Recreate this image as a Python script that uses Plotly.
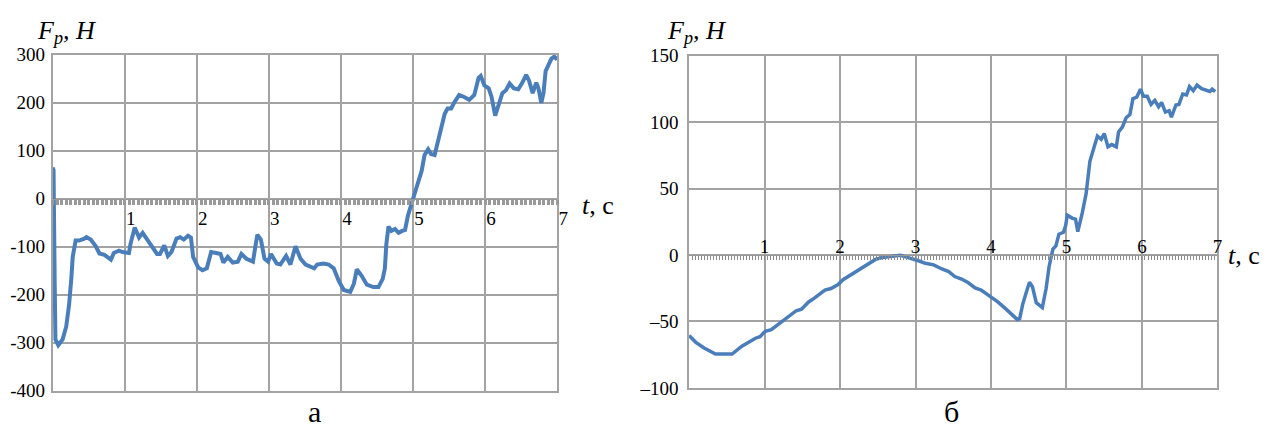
import plotly.graph_objects as go

# --- data ---
# panel "а": F_p (H) vs t (s)
t_a = [0.0, 0.014, 0.03, 0.04, 0.08, 0.14, 0.19, 0.23, 0.26, 0.28, 0.32, 0.37, 0.44, 0.47,
       0.53, 0.60, 0.65, 0.72, 0.81, 0.85, 0.92, 0.97, 1.06, 1.08, 1.14, 1.20, 1.25, 1.31,
       1.38, 1.45, 1.49, 1.55, 1.60, 1.65, 1.72, 1.77, 1.82, 1.88, 1.92, 1.95, 2.02, 2.08,
       2.14, 2.20, 2.27, 2.33, 2.37, 2.43, 2.50, 2.57, 2.62, 2.69, 2.78, 2.84, 2.89, 2.94,
       2.99, 3.03, 3.11, 3.16, 3.24, 3.30, 3.37, 3.44, 3.51, 3.58, 3.63, 3.67, 3.76, 3.83,
       3.90, 3.97, 4.04, 4.13, 4.18, 4.22, 4.29, 4.36, 4.45, 4.52, 4.58, 4.61, 4.63, 4.66,
       4.70, 4.75, 4.80, 4.85, 4.89, 4.93, 4.98, 5.05, 5.12, 5.16, 5.21, 5.25, 5.30, 5.35,
       5.39, 5.44, 5.48, 5.53, 5.57, 5.64, 5.71, 5.78, 5.85, 5.91, 5.94, 5.99, 6.05, 6.09,
       6.14, 6.18, 6.24, 6.29, 6.34, 6.40, 6.46, 6.51, 6.57, 6.61, 6.66, 6.71, 6.74, 6.78,
       6.81, 6.84, 6.88, 6.92, 6.96, 7.0]
f_a = [65, 60, -175, -293, -305, -293, -266, -220, -167, -121, -87, -87, -83, -80,
       -85, -99, -114, -117, -127, -113, -108, -111, -113, -95, -60, -81, -71, -85,
       -101, -115, -115, -97, -119, -111, -83, -80, -85, -77, -81, -121, -143, -149,
       -145, -111, -113, -115, -133, -121, -133, -131, -115, -125, -131, -75, -85, -125,
       -131, -115, -135, -137, -119, -137, -99, -125, -137, -141, -145, -137, -135, -137,
       -145, -171, -190, -194, -177, -147, -161, -179, -184, -184, -167, -145, -95, -58,
       -67, -63, -71, -67, -65, -35, -8, 24, 58, 91, 103, 93, 91, 123,
       151, 177, 188, 188, 200, 216, 212, 206, 216, 252, 256, 236, 230, 212,
       173, 192, 220, 226, 240, 230, 228, 240, 258, 246, 220, 242, 230, 200,
       220, 266, 280, 292, 296, 290]

# panel "б"
t_b = [0.00, 0.09, 0.20, 0.35, 0.57, 0.63, 0.70, 0.79, 0.88, 0.94, 1.01, 1.09, 1.16, 1.23,
       1.31, 1.42, 1.49, 1.58, 1.66, 1.80, 1.88, 1.97, 2.04, 2.17, 2.34, 2.47, 2.56, 2.69,
       2.80, 2.87, 2.96, 3.04, 3.13, 3.24, 3.35, 3.44, 3.52, 3.61, 3.70, 3.79, 3.87, 3.98,
       4.09, 4.20, 4.29, 4.35, 4.38, 4.42, 4.47, 4.51, 4.55, 4.60, 4.68, 4.73, 4.77, 4.82,
       4.86, 4.90, 4.96, 4.99, 5.01, 5.08, 5.12, 5.15, 5.21, 5.26, 5.31, 5.36, 5.41, 5.46,
       5.50, 5.55, 5.60, 5.66, 5.69, 5.74, 5.79, 5.84, 5.88, 5.93, 5.98, 6.02, 6.07, 6.12,
       6.17, 6.22, 6.26, 6.31, 6.36, 6.39, 6.45, 6.49, 6.54, 6.59, 6.63, 6.68, 6.73, 6.79,
       6.85, 6.90, 6.93, 6.97]
f_b = [-60.5, -65.7, -70, -74.5, -74.5, -71.7, -68.6, -65.7, -62.6, -61.4, -57.4, -56.2, -53.3, -50.2,
       -46.7, -41.9, -40.7, -35.5, -32.4, -26.4, -25.2, -22.4, -18.6, -13.8, -7.9, -3.3, -1.9, -0.9,
       -0.2, -1.4, -2.6, -4.3, -6.2, -7.4, -10.5, -12.5, -16.2, -18.1, -20.9, -24.8, -26.4, -30.5,
       -35.2, -40.7, -45.5, -48.6, -47.9, -37.1, -27.6, -20.5, -24.1, -35.9, -39.5, -25.2, -8.6, 4.5,
       6.9, 15.7, 17.1, 22.4, 30, 27.6, 27, 17.6, 31.9, 46.2, 70.5, 79.5, 89.5, 87.1,
       91.4, 81.4, 83.1, 81.4, 92.6, 96.2, 103.3, 105.7, 117.6, 118.8, 124.8, 119.5, 119.5, 113.3,
       116.4, 111.6, 114.8, 107.6, 108.6, 103.8, 112.9, 113.3, 121.2, 120.5, 126.7, 123.6, 127.9, 125.2,
       124.3, 123.1, 124.8, 122.9]

t_ticks = [1, 2, 3, 4, 5, 6, 7]
y_ticks_a = [-400, -300, -200, -100, 0, 100, 200, 300]
y_labels_a = ["-400", "-300", "-200", "-100", "0", "100", "200", "300"]
y_ticks_b = [-100, -50, 0, 50, 100, 150]
y_labels_b = ["\u2013100", "\u201350", "0", "50", "100", "150"]

SERIF = "Liberation Serif"
GRID = "#a3a3a3"
BAND = "#999999"
BLUE = "#4a7ebb"

dom_xa = [53 / 1281, 562 / 1281]
dom_xb = [695 / 1281, 1228 / 1281]
dom_ya = [1 - 400 / 437, 1 - 47 / 437]
dom_yb = [1 - 397 / 437, 1 - 48 / 437]
rng_ya = [-400, 300]
rng_yb = [-100, 150]


def zero_pos(dom, rng):
    return dom[0] + (0 - rng[0]) / (rng[1] - rng[0]) * (dom[1] - dom[0])


fig = go.Figure()
# empty traces keep the grid subplots alive
fig.add_trace(go.Scatter(x=[], y=[], xaxis="x", yaxis="y", showlegend=False, hoverinfo="skip"))
fig.add_trace(go.Scatter(x=[], y=[], xaxis="x2", yaxis="y2", showlegend=False, hoverinfo="skip"))
# curves on the overlay axes that form the F = 0 bands
fig.add_trace(go.Scatter(x=t_a, y=f_a, mode="lines", xaxis="x3", yaxis="y",
                         line=dict(color=BLUE, width=4), showlegend=False))
fig.add_trace(go.Scatter(x=t_b, y=f_b, mode="lines", xaxis="x4", yaxis="y2",
                         line=dict(color=BLUE, width=3.5), showlegend=False))

grid_x = dict(range=[0, 7], dtick=1, tick0=0, showgrid=True, gridcolor=GRID, gridwidth=1.5,
              showline=True, linecolor=GRID, linewidth=1.5, mirror=True,
              showticklabels=False, ticks="", zeroline=False)
grid_y = dict(showgrid=True, gridcolor=GRID, gridwidth=1.5, showline=True, linecolor=GRID,
              linewidth=1.5, mirror=True, ticks="", zeroline=False,
              tickfont=dict(family=SERIF, size=19, color="black"))

fig.update_layout(
    width=1281, height=437,
    margin=dict(l=0, r=0, t=0, b=0),
    font=dict(family=SERIF, color="black"),
    paper_bgcolor="white", plot_bgcolor="white",
    xaxis=dict(domain=dom_xa, anchor="y", **grid_x),
    xaxis2=dict(domain=dom_xb, anchor="y2", **grid_x),
    yaxis=dict(domain=dom_ya, anchor="x", range=rng_ya, tickvals=y_ticks_a,
               ticktext=y_labels_a, ticklabelstandoff=2, **grid_y),
    yaxis2=dict(domain=dom_yb, anchor="x2", range=rng_yb, tickvals=y_ticks_b,
                ticktext=y_labels_b, ticklabelstandoff=5, **grid_y),
    xaxis3=dict(domain=dom_xa, anchor="free", overlaying="x", position=zero_pos(dom_ya, rng_ya),
                range=[0, 7], side="bottom", showgrid=False, zeroline=False,
                showline=True, linecolor=BAND, linewidth=1,
                tickvals=t_ticks, ticks="outside", ticklen=5, tickwidth=2.5, tickcolor=BAND,
                minor=dict(ticks="outside", ticklen=5, tickwidth=2.5, tickcolor=BAND,
                           tick0=0, dtick=1 / 16, showgrid=False),
                tickfont=dict(family=SERIF, size=19, color="black"),
                ticklabelshift=6, ticklabelstandoff=-3),
    xaxis4=dict(domain=dom_xb, anchor="free", overlaying="x2", position=zero_pos(dom_yb, rng_yb),
                range=[0, 7], side="top", showgrid=False, zeroline=False,
                showline=True, linecolor=BAND, linewidth=1,
                tickvals=t_ticks, ticks="inside", ticklen=4, tickwidth=1, tickcolor="#8a8a8a",
                minor=dict(ticks="inside", ticklen=4, tickwidth=1, tickcolor="#8a8a8a",
                           tick0=0, dtick=0.04, showgrid=False),
                tickfont=dict(family=SERIF, size=19, color="black"),
                ticklabelstandoff=-6),
)

txt = dict(family=SERIF, size=26, color="black")
fig.add_annotation(x=35 / 1281, y=1 - 23 / 437, xref="paper", yref="paper", xanchor="left",
                   yanchor="middle", text="<i>F<sub>p</sub>, H</i>", showarrow=False, font=txt)
fig.add_annotation(x=671 / 1281, y=1 - 23 / 437, xref="paper", yref="paper", xanchor="left",
                   yanchor="middle", text="<i>F<sub>p</sub>, H</i>", showarrow=False, font=txt)
fig.add_annotation(x=585 / 1281, y=1 - 205 / 437, xref="paper", yref="paper", xanchor="left",
                   yanchor="middle", text="<i>t</i>, с", showarrow=False, font=txt)
fig.add_annotation(x=1237 / 1281, y=1 - 258 / 437, xref="paper", yref="paper", xanchor="left",
                   yanchor="middle", text="<i>t</i>, с", showarrow=False, font=txt)
fig.add_annotation(x=317 / 1281, y=1 - 422 / 437, xref="paper", yref="paper", xanchor="center",
                   yanchor="middle", text="а", showarrow=False, font=dict(family=SERIF, size=30, color="black"))
fig.add_annotation(x=960 / 1281, y=1 - 422 / 437, xref="paper", yref="paper", xanchor="center",
                   yanchor="middle", text="б", showarrow=False, font=dict(family=SERIF, size=30, color="black"))

fig.write_html("out.html", config={"displayModeBar": False},
               post_script="document.body.style.margin='0';document.body.style.overflow='hidden';")
